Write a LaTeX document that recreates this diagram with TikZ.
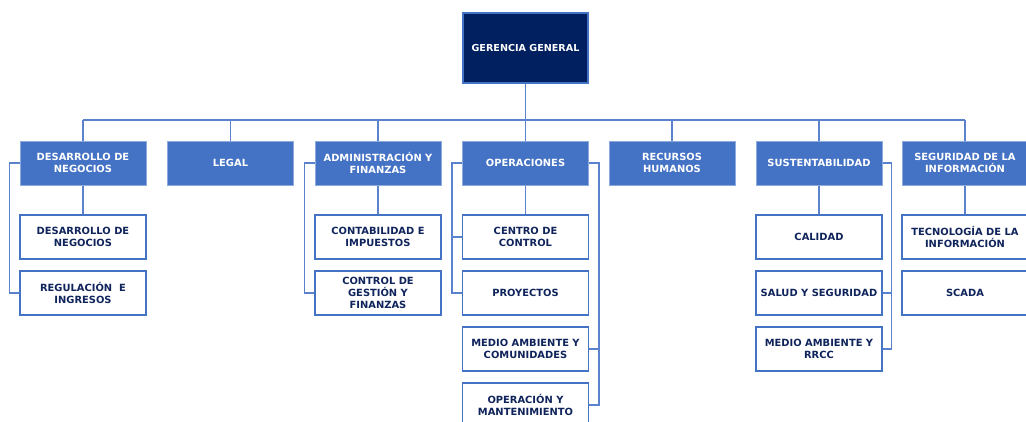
\documentclass[tikz,border=0pt]{standalone}
\usepackage{fontspec}
\setmainfont{DejaVu Sans}
\definecolor{navy}{RGB}{0,32,96}
\definecolor{midblue}{RGB}{68,114,196}
\definecolor{lineblue}{RGB}{90,130,205}
\definecolor{lightedge}{RGB}{143,170,220}
\definecolor{txtnavy}{RGB}{16,36,92}
\tikzset{
  base/.style={rectangle, minimum width=126pt, minimum height=44pt, inner sep=1pt, align=center,
    font=\fontsize{9.9}{12}\selectfont\bfseries},
  topbox/.style={base, minimum width=125pt, minimum height=70pt, fill=navy, draw=midblue, line width=1.2pt, text=white,
    font=\fontsize{9.6}{12}\selectfont\bfseries},
  lvlone/.style={base, fill=midblue, draw=lightedge, line width=1pt, text=white},
  lvltwo/.style={base, fill=white, draw=midblue, line width=1.2pt, text=txtnavy},
  conn/.style={draw=lineblue, line width=1.4pt}
}
\begin{document}
\begin{tikzpicture}[x=1pt,y=-1pt]
\useasboundingbox (0,0) rectangle (1026,421);
% top
\node[topbox] (gg) at (525.5,48) {GERENCIA GENERAL};
% level one
\node[lvlone] (dn) at (83,163) {DESARROLLO DE\\NEGOCIOS};
\node[lvlone] (lg) at (230.5,163) {LEGAL};
\node[lvlone] (af) at (378,163) {ADMINISTRACIÓN Y\\FINANZAS};
\node[lvlone] (op) at (525.5,163) {OPERACIONES};
\node[lvlone] (rh) at (672,163) {RECURSOS\\HUMANOS};
\node[lvlone] (su) at (819,163) {SUSTENTABILIDAD};
\node[lvlone] (si) at (965,163) {SEGURIDAD DE LA\\INFORMACIÓN};
% level two
\node[lvltwo] (dn1) at (83,237) {DESARROLLO DE\\NEGOCIOS};
\node[lvltwo] (dn2) at (83,293) {REGULACIÓN\ \ E\\INGRESOS};
\node[lvltwo] (af1) at (378,237) {CONTABILIDAD E\\IMPUESTOS};
\node[lvltwo] (af2) at (378,293) {CONTROL DE\\GESTIÓN Y\\FINANZAS};
\node[lvltwo] (op1) at (525.5,237) {CENTRO DE\\CONTROL};
\node[lvltwo] (op2) at (525.5,293) {PROYECTOS};
\node[lvltwo] (op3) at (525.5,349) {MEDIO AMBIENTE Y\\COMUNIDADES};
\node[lvltwo] (op4) at (525.5,405) {OPERACIÓN Y\\MANTENIMIENTO};
\node[lvltwo] (su1) at (819,237) {CALIDAD};
\node[lvltwo] (su2) at (819,293) {SALUD Y SEGURIDAD};
\node[lvltwo] (su3) at (819,349) {MEDIO AMBIENTE Y\\RRCC};
\node[lvltwo] (si1) at (965,237) {TECNOLOGÍA DE LA\\INFORMACIÓN};
\node[lvltwo] (si2) at (965,293) {SCADA};
% bus
\coordinate (bus) at (0,120);
\draw[conn] (gg.south) -- (op.north);
\draw[conn] (dn.north |- bus) -- (si.north |- bus);
\foreach \n in {dn,lg,af,rh,su,si} \draw[conn] (\n.north |- bus) -- (\n.north);
% children
\draw[conn] (dn.south) -- (dn1.north);
\draw[conn] (af.south) -- (af1.north);
\draw[conn] (op.south) -- (op1.north);
\draw[conn] (su.south) -- (su1.north);
\draw[conn] (si.south) -- (si1.north);
% brackets
\draw[conn] (dn.west) -- ++(-10,0) |- (dn2.west);
\draw[conn] (af.west) -- ++(-10,0) |- (af2.west);
\draw[conn] (op.west) -- ++(-10,0) coordinate (opL) |- (op2.west);
\draw[conn] (opL |- op1.west) -- (op1.west);
\draw[conn] (op.east) -- ++(10,0) coordinate (opR) |- (op4.east);
\draw[conn] (opR |- op3.east) -- (op3.east);
\draw[conn] (su.east) -- ++(9,0) coordinate (suR) |- (su3.east);
\draw[conn] (suR |- su2.east) -- (su2.east);
\end{tikzpicture}
\end{document}
